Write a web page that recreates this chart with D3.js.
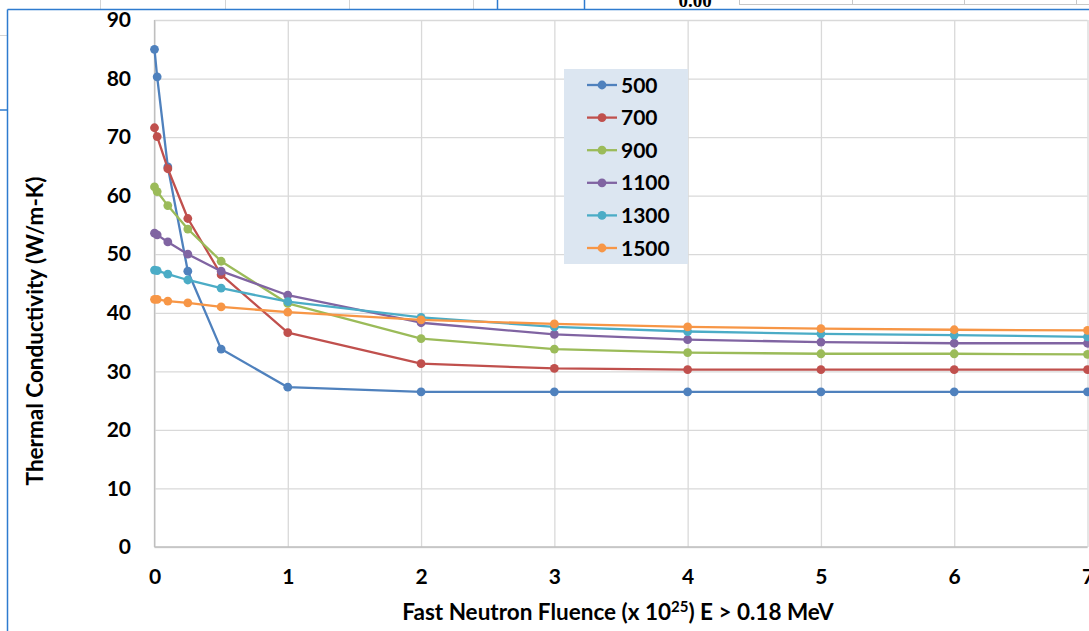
<!DOCTYPE html>
<html>
<head>
<meta charset="utf-8">
<script src="https://cdn.jsdelivr.net/npm/d3@7"></script>
<style>
  html, body { margin: 0; padding: 0; background: #fff; overflow: hidden; }
  svg { display: block; }
  text { font-family: Lato, "Open Sans", "Liberation Sans", sans-serif; font-weight: 700; fill: #000; }
</style>
</head>
<body>
<svg id="chart" width="1089" height="631"></svg>
<script>
// ---------- data ----------
const fluence = [0, 0.02, 0.1, 0.25, 0.5, 1, 2, 3, 4, 5, 6, 7];
const seriesNames = ["500", "700", "900", "1100", "1300", "1500"];
const k500  = [85.0, 80.3, 64.9, 47.1, 33.8, 27.3, 26.5, 26.5, 26.5, 26.5, 26.5, 26.5];
const k700  = [71.6, 70.1, 64.6, 56.1, 46.5, 36.6, 31.3, 30.5, 30.3, 30.3, 30.3, 30.3];
const k900  = [61.5, 60.7, 58.3, 54.3, 48.8, 41.6, 35.6, 33.8, 33.2, 33.0, 33.0, 32.9];
const k1100 = [53.6, 53.3, 52.1, 50.0, 47.1, 43.0, 38.3, 36.3, 35.4, 35.0, 34.8, 34.8];
const k1300 = [47.3, 47.2, 46.6, 45.6, 44.2, 41.9, 39.2, 37.6, 36.8, 36.4, 36.2, 35.9];
const k1500 = [42.3, 42.3, 42.0, 41.7, 41.0, 40.1, 38.8, 38.1, 37.6, 37.3, 37.1, 37.0];
const seriesValues = [k500, k700, k900, k1100, k1300, k1500];
const colors = ["#4F81BD", "#C0504D", "#9BBB59", "#8064A2", "#4BACC6", "#F79646"];
const xTicks = [0, 1, 2, 3, 4, 5, 6, 7];
const yTicks = [0, 10, 20, 30, 40, 50, 60, 70, 80, 90];

// ---------- layout ----------
const svg = d3.select("#chart");
const x = d3.scaleLinear().domain([0, 7]).range([154.5, 1087.5]);
const y = d3.scaleLinear().domain([0, 90]).range([547, 20]);

// ---------- surrounding spreadsheet artifacts ----------
const art = svg.append("g");
[100, 225, 349, 473].forEach(px => art.append("line").attr("x1", px + 0.5).attr("x2", px + 0.5).attr("y1", 0).attr("y2", 9).attr("stroke", "#d4d4d4"));
[497, 584].forEach(px => art.append("line").attr("x1", px + 0.5).attr("x2", px + 0.5).attr("y1", 0).attr("y2", 9).attr("stroke", "#2e7bcf").attr("stroke-width", 1.5));
art.append("rect").attr("x", 739.5).attr("y", -2).attr("width", 360).attr("height", 6.5).attr("fill", "none").attr("stroke", "#c8c8c8");
[852, 964, 1076].forEach(px => art.append("line").attr("x1", px + 0.5).attr("x2", px + 0.5).attr("y1", 0).attr("y2", 4).attr("stroke", "#c8c8c8"));
art.append("text").attr("x", 695).attr("y", 7).attr("text-anchor", "middle").style("font-size", "19px").style("font-family", "'Liberation Serif', serif").text("0.00");
art.append("line").attr("x1", 0).attr("x2", 7).attr("y1", 35.5).attr("y2", 35.5).attr("stroke", "#d4d4d4");
art.append("line").attr("x1", 0).attr("x2", 7).attr("y1", 110).attr("y2", 110).attr("stroke", "#2e7bcf").attr("stroke-width", 1.5);
// chart frame (white background + blue selection border)
art.append("rect").attr("x", 7.5).attr("y", 9.5).attr("width", 1100).attr("height", 640).attr("fill", "#fff");
art.append("line").attr("x1", 7.5).attr("x2", 1089).attr("y1", 9.5).attr("y2", 9.5).attr("stroke", "#2e7bcf").attr("stroke-width", 1.5);
art.append("line").attr("x1", 7.5).attr("x2", 7.5).attr("y1", 9.5).attr("y2", 631).attr("stroke", "#2e7bcf").attr("stroke-width", 1.5);

// ---------- gridlines ----------
svg.append("g")
  .attr("transform", `translate(0,${y(0)})`)
  .call(d3.axisBottom(x).tickValues(xTicks).tickSize(-(y(0) - y(90))).tickFormat(""))
  .call(g => g.select(".domain").remove())
  .call(g => g.selectAll("line").attr("stroke", "#d9d9d9").attr("stroke-width", 1.3));
svg.append("g")
  .attr("transform", `translate(${x(0)},0)`)
  .call(d3.axisLeft(y).tickValues(yTicks).tickSize(-(x(7) - x(0))).tickFormat(""))
  .call(g => g.select(".domain").remove())
  .call(g => g.selectAll("line").attr("stroke", "#d9d9d9").attr("stroke-width", 1.3));

// axis lines
svg.append("line").attr("x1", x(0)).attr("x2", x(0)).attr("y1", y(0)).attr("y2", y(90)).attr("stroke", "#bfbfbf").attr("stroke-width", 1.3);
svg.append("line").attr("x1", x(0)).attr("x2", x(7)).attr("y1", y(0)).attr("y2", y(0)).attr("stroke", "#bfbfbf").attr("stroke-width", 1.3);

// ---------- tick labels ----------
svg.append("g")
  .attr("transform", `translate(131,0)`)
  .call(d3.axisLeft(y).tickValues(yTicks).tickSize(0).tickPadding(0).tickFormat(d3.format("d")))
  .call(g => g.select(".domain").remove())
  .call(g => g.selectAll("text").style("font-size", "21px").style("font-family", "Lato, sans-serif").style("font-weight", 700).attr("fill", "#000"));
svg.append("g")
  .attr("transform", `translate(0,569)`)
  .call(d3.axisBottom(x).tickValues(xTicks).tickSize(0).tickPadding(0).tickFormat(d3.format("d")))
  .call(g => g.select(".domain").remove())
  .call(g => g.selectAll("text").style("font-size", "21px").style("font-family", "Lato, sans-serif").style("font-weight", 700).attr("fill", "#000"));

// ---------- series ----------
const line = d3.line().x((d, i) => x(fluence[i])).y(d => y(d));
seriesValues.forEach((vals, si) => {
  const g = svg.append("g");
  g.append("path").attr("d", line(vals)).attr("fill", "none")
    .attr("stroke", colors[si]).attr("stroke-width", 2.3).attr("stroke-linejoin", "round");
  g.selectAll("circle").data(vals).join("circle")
    .attr("cx", (d, i) => x(fluence[i])).attr("cy", d => y(d)).attr("r", 4.4)
    .attr("fill", colors[si]);
});

// ---------- legend ----------
const lg = svg.append("g");
lg.append("rect").attr("x", 564).attr("y", 69).attr("width", 124).attr("height", 195).attr("fill", "#dce6f1");
seriesNames.forEach((name, i) => {
  const cy = 85 + i * 32.6;
  lg.append("line").attr("x1", 587).attr("x2", 617).attr("y1", cy).attr("y2", cy).attr("stroke", colors[i]).attr("stroke-width", 2.3);
  lg.append("circle").attr("cx", 602).attr("cy", cy).attr("r", 4.4).attr("fill", colors[i]);
  lg.append("text").attr("x", 621).attr("y", cy + 7.5).style("font-size", "21px").text(name);
});

// ---------- axis titles ----------
svg.append("text")
  .attr("transform", "translate(43,331) rotate(-90)")
  .attr("text-anchor", "middle").style("font-size", "22.5px")
  .text("Thermal Conductivity (W/m-K)");
const xt = svg.append("text").attr("x", 618).attr("y", 620).attr("text-anchor", "middle").style("font-size", "22.5px");
xt.append("tspan").text("Fast Neutron Fluence (x 10");
xt.append("tspan").attr("dy", -8).style("font-size", "15px").text("25");
xt.append("tspan").attr("dy", 8).text(") E > 0.18 MeV");
</script>
</body>
</html>
